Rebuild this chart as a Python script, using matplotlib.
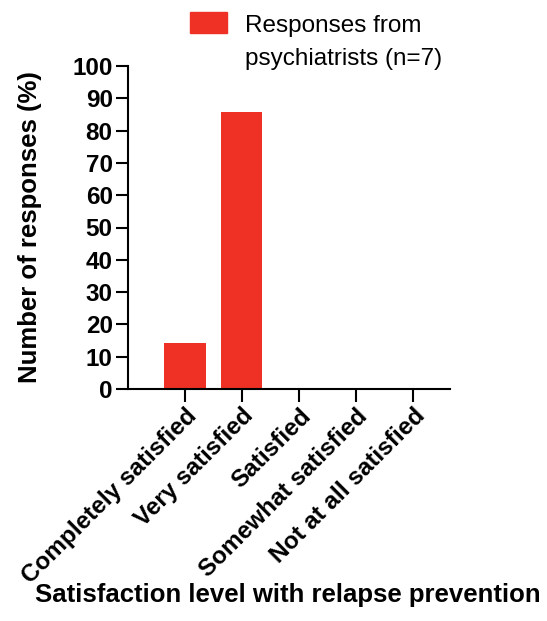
import numpy as np
import matplotlib.pyplot as plt
from matplotlib.patches import Rectangle

categories = ["Completely satisfied", "Very satisfied", "Satisfied",
              "Somewhat satisfied", "Not at all satisfied"]
responses = [14.29, 85.71, 0, 0, 0]
yticks = list(range(0, 101, 10))
bar_color = '#EE3124'

plt.rcParams['font.family'] = ['Liberation Sans', 'DejaVu Sans']

W, H = 547, 621
fig = plt.figure(figsize=(W/100, H/100), dpi=100)
ax = fig.add_axes([128/W, 1 - 389/H, (450-128)/W, (389-66)/H])

x = np.arange(len(categories))
ax.bar(x, responses, width=0.72, color=bar_color)
ax.set_xlim(-1, 4.65)
ax.set_ylim(0, 100)
ax.set_yticks(yticks)
ax.set_xticks(x)
ax.set_xticklabels(categories, rotation=45, ha='right', rotation_mode='anchor',
                   fontsize=17.5, fontweight='bold')
for lab in ax.get_yticklabels():
    lab.set_fontsize(17.5)
    lab.set_fontweight('bold')

for s in ['top', 'right']:
    ax.spines[s].set_visible(False)
for s in ['left', 'bottom']:
    ax.spines[s].set_linewidth(1.5)
ax.tick_params(width=1.5, length=9, pad=2)

ax.set_ylabel("Number of responses (%)", fontsize=18.5, fontweight='bold')
ax.yaxis.set_label_coords(-0.267, 0.5)
fig.text(288/W, 1 - 602/H, "Satisfaction level with relapse prevention",
         ha='center', va='baseline', fontsize=18.5, fontweight='bold')

# legend drawn by hand so the swatch sits on the first line
fig.patches.append(Rectangle((190/W, 1 - 33/H), 37/W, 21/H, color=bar_color,
                             transform=fig.transFigure, figure=fig))
fig.text(245/W, 1 - 32/H, "Responses from", ha='left', va='baseline', fontsize=17.5)
fig.text(245/W, 1 - 65/H, "psychiatrists (n=7)", ha='left', va='baseline', fontsize=17.5)

fig.savefig("out.png", dpi=100)
